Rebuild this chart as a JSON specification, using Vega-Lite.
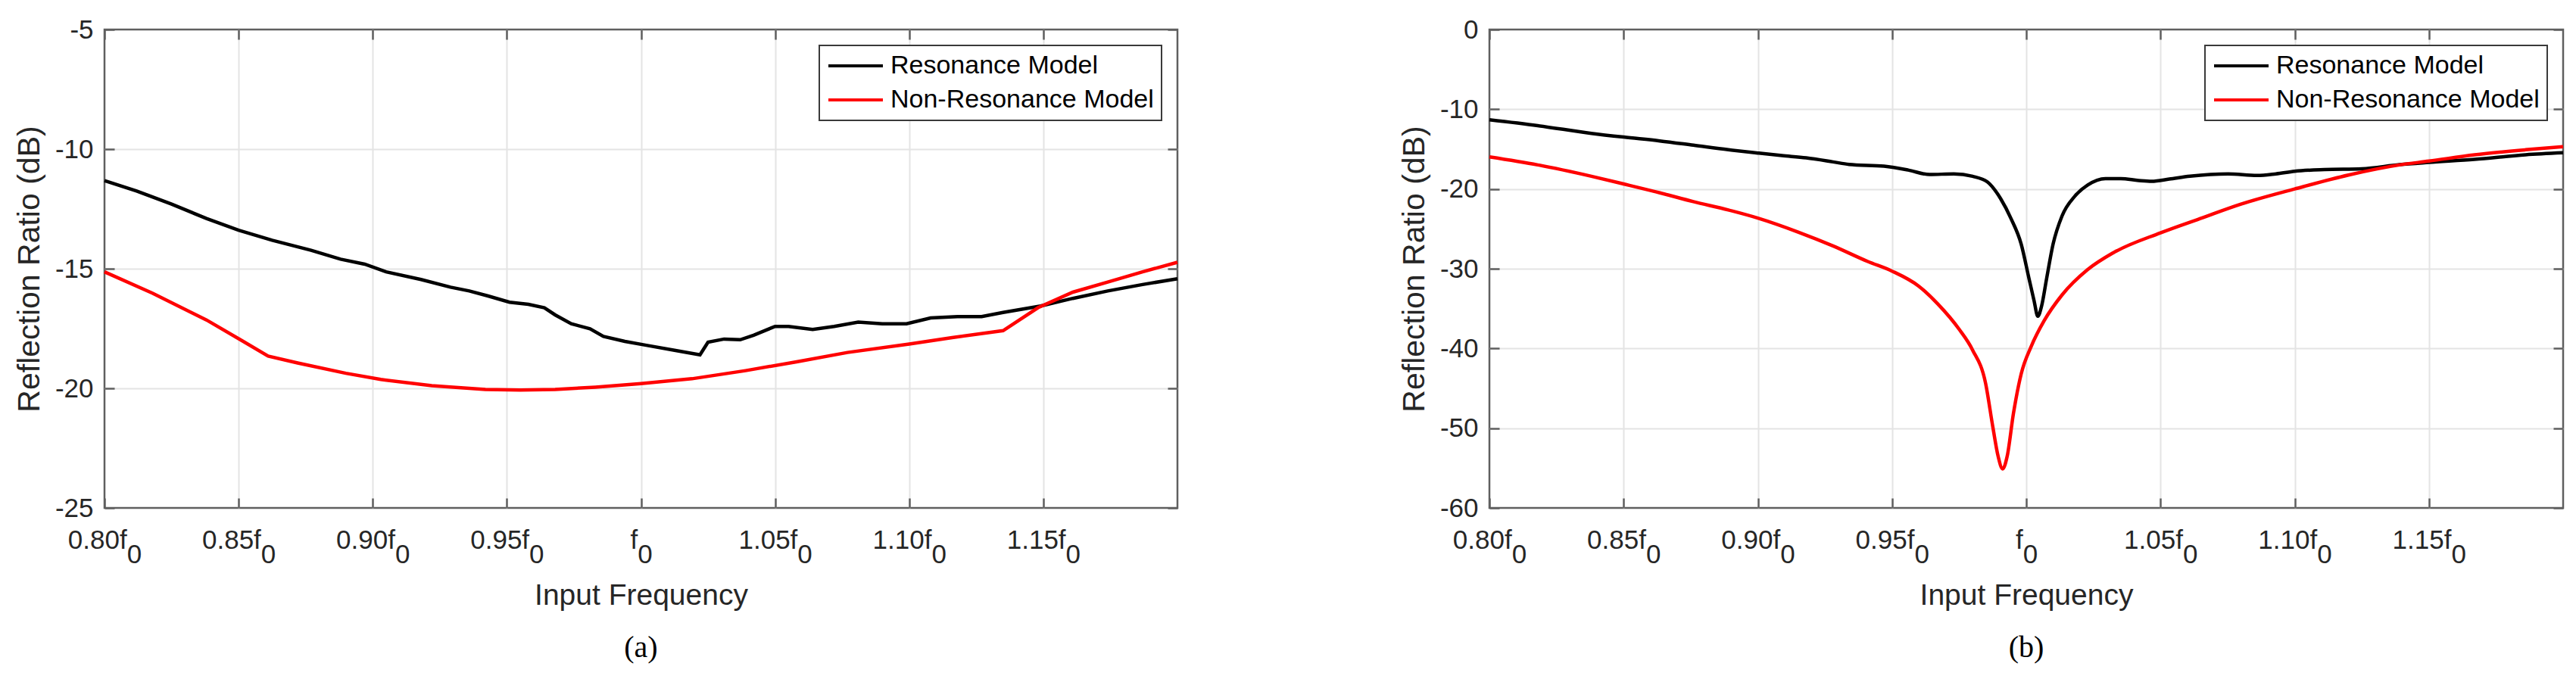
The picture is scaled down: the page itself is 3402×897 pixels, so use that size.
{
  "$schema": "https://vega.github.io/schema/vega-lite/v6.json",
  "padding": {"left": 17, "top": 20, "right": 0, "bottom": 0},
  "background": "white",
  "datasets": {
    "a": [
      {"f": 0.800, "dB": -11.32, "series": "Resonance Model"},
      {"f": 0.812, "dB": -11.75, "series": "Resonance Model"},
      {"f": 0.825, "dB": -12.30, "series": "Resonance Model"},
      {"f": 0.838, "dB": -12.90, "series": "Resonance Model"},
      {"f": 0.850, "dB": -13.39, "series": "Resonance Model"},
      {"f": 0.8625, "dB": -13.81, "series": "Resonance Model"},
      {"f": 0.877, "dB": -14.23, "series": "Resonance Model"},
      {"f": 0.888, "dB": -14.60, "series": "Resonance Model"},
      {"f": 0.897, "dB": -14.81, "series": "Resonance Model"},
      {"f": 0.905, "dB": -15.13, "series": "Resonance Model"},
      {"f": 0.918, "dB": -15.45, "series": "Resonance Model"},
      {"f": 0.929, "dB": -15.77, "series": "Resonance Model"},
      {"f": 0.936, "dB": -15.93, "series": "Resonance Model"},
      {"f": 0.943, "dB": -16.14, "series": "Resonance Model"},
      {"f": 0.951, "dB": -16.40, "series": "Resonance Model"},
      {"f": 0.958, "dB": -16.49, "series": "Resonance Model"},
      {"f": 0.964, "dB": -16.63, "series": "Resonance Model"},
      {"f": 0.968, "dB": -16.93, "series": "Resonance Model"},
      {"f": 0.974, "dB": -17.30, "series": "Resonance Model"},
      {"f": 0.981, "dB": -17.51, "series": "Resonance Model"},
      {"f": 0.986, "dB": -17.83, "series": "Resonance Model"},
      {"f": 0.994, "dB": -18.04, "series": "Resonance Model"},
      {"f": 1.002, "dB": -18.20, "series": "Resonance Model"},
      {"f": 1.0125, "dB": -18.41, "series": "Resonance Model"},
      {"f": 1.022, "dB": -18.60, "series": "Resonance Model"},
      {"f": 1.025, "dB": -18.07, "series": "Resonance Model"},
      {"f": 1.031, "dB": -17.94, "series": "Resonance Model"},
      {"f": 1.037, "dB": -17.97, "series": "Resonance Model"},
      {"f": 1.042, "dB": -17.78, "series": "Resonance Model"},
      {"f": 1.050, "dB": -17.41, "series": "Resonance Model"},
      {"f": 1.055, "dB": -17.41, "series": "Resonance Model"},
      {"f": 1.064, "dB": -17.54, "series": "Resonance Model"},
      {"f": 1.072, "dB": -17.41, "series": "Resonance Model"},
      {"f": 1.081, "dB": -17.23, "series": "Resonance Model"},
      {"f": 1.090, "dB": -17.30, "series": "Resonance Model"},
      {"f": 1.099, "dB": -17.30, "series": "Resonance Model"},
      {"f": 1.108, "dB": -17.06, "series": "Resonance Model"},
      {"f": 1.118, "dB": -17.00, "series": "Resonance Model"},
      {"f": 1.127, "dB": -17.00, "series": "Resonance Model"},
      {"f": 1.135, "dB": -16.83, "series": "Resonance Model"},
      {"f": 1.149, "dB": -16.56, "series": "Resonance Model"},
      {"f": 1.161, "dB": -16.24, "series": "Resonance Model"},
      {"f": 1.174, "dB": -15.93, "series": "Resonance Model"},
      {"f": 1.187, "dB": -15.66, "series": "Resonance Model"},
      {"f": 1.200, "dB": -15.42, "series": "Resonance Model"},
      {"f": 0.800, "dB": -15.13, "series": "Non-Resonance Model"},
      {"f": 0.818, "dB": -16.03, "series": "Non-Resonance Model"},
      {"f": 0.838, "dB": -17.14, "series": "Non-Resonance Model"},
      {"f": 0.851, "dB": -17.99, "series": "Non-Resonance Model"},
      {"f": 0.861, "dB": -18.65, "series": "Non-Resonance Model"},
      {"f": 0.872, "dB": -18.94, "series": "Non-Resonance Model"},
      {"f": 0.890, "dB": -19.37, "series": "Non-Resonance Model"},
      {"f": 0.903, "dB": -19.63, "series": "Non-Resonance Model"},
      {"f": 0.922, "dB": -19.89, "series": "Non-Resonance Model"},
      {"f": 0.942, "dB": -20.05, "series": "Non-Resonance Model"},
      {"f": 0.955, "dB": -20.07, "series": "Non-Resonance Model"},
      {"f": 0.968, "dB": -20.05, "series": "Non-Resonance Model"},
      {"f": 0.983, "dB": -19.95, "series": "Non-Resonance Model"},
      {"f": 1.000, "dB": -19.80, "series": "Non-Resonance Model"},
      {"f": 1.019, "dB": -19.60, "series": "Non-Resonance Model"},
      {"f": 1.039, "dB": -19.26, "series": "Non-Resonance Model"},
      {"f": 1.058, "dB": -18.89, "series": "Non-Resonance Model"},
      {"f": 1.077, "dB": -18.50, "series": "Non-Resonance Model"},
      {"f": 1.100, "dB": -18.15, "series": "Non-Resonance Model"},
      {"f": 1.116, "dB": -17.88, "series": "Non-Resonance Model"},
      {"f": 1.135, "dB": -17.59, "series": "Non-Resonance Model"},
      {"f": 1.148, "dB": -16.63, "series": "Non-Resonance Model"},
      {"f": 1.161, "dB": -15.98, "series": "Non-Resonance Model"},
      {"f": 1.174, "dB": -15.56, "series": "Non-Resonance Model"},
      {"f": 1.187, "dB": -15.13, "series": "Non-Resonance Model"},
      {"f": 1.200, "dB": -14.73, "series": "Non-Resonance Model"}
    ],
    "b": [
      {"f": 0.800, "dB": -11.33, "series": "Resonance Model"},
      {"f": 0.818, "dB": -12.06, "series": "Resonance Model"},
      {"f": 0.838, "dB": -13.02, "series": "Resonance Model"},
      {"f": 0.850, "dB": -13.49, "series": "Resonance Model"},
      {"f": 0.8635, "dB": -13.97, "series": "Resonance Model"},
      {"f": 0.876, "dB": -14.51, "series": "Resonance Model"},
      {"f": 0.889, "dB": -15.08, "series": "Resonance Model"},
      {"f": 0.900, "dB": -15.49, "series": "Resonance Model"},
      {"f": 0.909, "dB": -15.81, "series": "Resonance Model"},
      {"f": 0.918, "dB": -16.10, "series": "Resonance Model"},
      {"f": 0.928, "dB": -16.60, "series": "Resonance Model"},
      {"f": 0.934, "dB": -16.92, "series": "Resonance Model"},
      {"f": 0.947, "dB": -17.14, "series": "Resonance Model"},
      {"f": 0.956, "dB": -17.62, "series": "Resonance Model"},
      {"f": 0.964, "dB": -18.19, "series": "Resonance Model"},
      {"f": 0.973, "dB": -18.10, "series": "Resonance Model"},
      {"f": 0.980, "dB": -18.41, "series": "Resonance Model"},
      {"f": 0.9855, "dB": -19.10, "series": "Resonance Model"},
      {"f": 0.9905, "dB": -21.24, "series": "Resonance Model"},
      {"f": 0.9943, "dB": -23.70, "series": "Resonance Model"},
      {"f": 0.9981, "dB": -26.90, "series": "Resonance Model"},
      {"f": 1.001, "dB": -31.20, "series": "Resonance Model"},
      {"f": 1.0029, "dB": -34.00, "series": "Resonance Model"},
      {"f": 1.0043, "dB": -35.96, "series": "Resonance Model"},
      {"f": 1.0057, "dB": -34.70, "series": "Resonance Model"},
      {"f": 1.0076, "dB": -31.20, "series": "Resonance Model"},
      {"f": 1.010, "dB": -26.90, "series": "Resonance Model"},
      {"f": 1.0133, "dB": -23.40, "series": "Resonance Model"},
      {"f": 1.0181, "dB": -20.90, "series": "Resonance Model"},
      {"f": 1.0229, "dB": -19.50, "series": "Resonance Model"},
      {"f": 1.0295, "dB": -18.70, "series": "Resonance Model"},
      {"f": 1.0352, "dB": -18.70, "series": "Resonance Model"},
      {"f": 1.0419, "dB": -18.94, "series": "Resonance Model"},
      {"f": 1.0467, "dB": -19.04, "series": "Resonance Model"},
      {"f": 1.0533, "dB": -18.76, "series": "Resonance Model"},
      {"f": 1.061, "dB": -18.40, "series": "Resonance Model"},
      {"f": 1.0752, "dB": -18.10, "series": "Resonance Model"},
      {"f": 1.086, "dB": -18.30, "series": "Resonance Model"},
      {"f": 1.093, "dB": -18.10, "series": "Resonance Model"},
      {"f": 1.100, "dB": -17.78, "series": "Resonance Model"},
      {"f": 1.111, "dB": -17.56, "series": "Resonance Model"},
      {"f": 1.125, "dB": -17.46, "series": "Resonance Model"},
      {"f": 1.139, "dB": -16.95, "series": "Resonance Model"},
      {"f": 1.150, "dB": -16.67, "series": "Resonance Model"},
      {"f": 1.167, "dB": -16.29, "series": "Resonance Model"},
      {"f": 1.186, "dB": -15.71, "series": "Resonance Model"},
      {"f": 1.200, "dB": -15.46, "series": "Resonance Model"},
      {"f": 0.800, "dB": -15.97, "series": "Non-Resonance Model"},
      {"f": 0.818, "dB": -16.98, "series": "Non-Resonance Model"},
      {"f": 0.838, "dB": -18.41, "series": "Non-Resonance Model"},
      {"f": 0.850, "dB": -19.37, "series": "Non-Resonance Model"},
      {"f": 0.8635, "dB": -20.48, "series": "Non-Resonance Model"},
      {"f": 0.876, "dB": -21.59, "series": "Non-Resonance Model"},
      {"f": 0.889, "dB": -22.63, "series": "Non-Resonance Model"},
      {"f": 0.900, "dB": -23.65, "series": "Non-Resonance Model"},
      {"f": 0.915, "dB": -25.40, "series": "Non-Resonance Model"},
      {"f": 0.928, "dB": -27.14, "series": "Non-Resonance Model"},
      {"f": 0.941, "dB": -29.10, "series": "Non-Resonance Model"},
      {"f": 0.950, "dB": -30.30, "series": "Non-Resonance Model"},
      {"f": 0.960, "dB": -32.20, "series": "Non-Resonance Model"},
      {"f": 0.967, "dB": -34.40, "series": "Non-Resonance Model"},
      {"f": 0.975, "dB": -37.60, "series": "Non-Resonance Model"},
      {"f": 0.980, "dB": -40.20, "series": "Non-Resonance Model"},
      {"f": 0.9848, "dB": -44.30, "series": "Non-Resonance Model"},
      {"f": 0.9876, "dB": -49.96, "series": "Non-Resonance Model"},
      {"f": 0.9895, "dB": -53.50, "series": "Non-Resonance Model"},
      {"f": 0.9912, "dB": -55.10, "series": "Non-Resonance Model"},
      {"f": 0.9929, "dB": -53.50, "series": "Non-Resonance Model"},
      {"f": 0.9952, "dB": -48.20, "series": "Non-Resonance Model"},
      {"f": 0.9981, "dB": -43.20, "series": "Non-Resonance Model"},
      {"f": 1.0019, "dB": -39.70, "series": "Non-Resonance Model"},
      {"f": 1.0067, "dB": -36.50, "series": "Non-Resonance Model"},
      {"f": 1.0133, "dB": -33.30, "series": "Non-Resonance Model"},
      {"f": 1.0229, "dB": -30.10, "series": "Non-Resonance Model"},
      {"f": 1.0324, "dB": -28.00, "series": "Non-Resonance Model"},
      {"f": 1.050, "dB": -25.50, "series": "Non-Resonance Model"},
      {"f": 1.0657, "dB": -23.60, "series": "Non-Resonance Model"},
      {"f": 1.080, "dB": -21.90, "series": "Non-Resonance Model"},
      {"f": 1.100, "dB": -20.00, "series": "Non-Resonance Model"},
      {"f": 1.120, "dB": -18.25, "series": "Non-Resonance Model"},
      {"f": 1.139, "dB": -16.98, "series": "Non-Resonance Model"},
      {"f": 1.150, "dB": -16.50, "series": "Non-Resonance Model"},
      {"f": 1.167, "dB": -15.71, "series": "Non-Resonance Model"},
      {"f": 1.186, "dB": -15.08, "series": "Non-Resonance Model"},
      {"f": 1.200, "dB": -14.70, "series": "Non-Resonance Model"}
    ]
  },
  "hconcat": [
    {
      "width": 1417,
      "height": 632,
      "data": {"name": "a"},
      "title": {"text": "(a)", "orient": "bottom", "anchor": "middle", "font": "Liberation Serif", "fontSize": 40, "fontWeight": "normal", "color": "#000000", "offset": 30},
      "layer": [
        {
          "mark": {"type": "line", "strokeWidth": 4.5, "interpolate": "linear"},
          "encoding": {
            "x": {"field": "f", "type": "quantitative", "title": "Input Frequency",
              "scale": {"domain": [0.8, 1.2], "nice": false, "zero": false},
              "axis": {"orient": "bottom", "values": [0.8, 0.85, 0.9, 0.95, 1.0, 1.05, 1.1, 1.15],
                "labelExpr": "datum.value == 1 ? ['f\u00a0\u00a0\u200b', '\u200b\u00a00'] : [format(datum.value, '.2f') + 'f\u00a0\u00a0\u200b', '\u200b\u00a0\u00a0\u00a0\u00a0\u00a0\u00a0\u00a0\u00a00']",
                "labelPadding": 38, "labelLineHeight": 19, "labelBaseline": "top", "titlePadding": 17, "titleFontSize": 39,
                "gridOpacity": {"condition": {"test": "datum.value <= 0.8 || datum.value >= 1.2", "value": 0}, "value": 1}}},
            "y": {"field": "dB", "type": "quantitative", "title": "Reflection Ratio (dB)",
              "scale": {"domain": [-25, -5], "nice": false, "zero": false},
              "axis": {"orient": "left", "values": [-25, -20, -15, -10, -5], "labelExpr": "'' + datum.value",
                "labelPadding": 28, "titlePadding": 12, "titleFontSize": 41,
                "gridOpacity": {"condition": {"test": "datum.value <= -25 || datum.value >= -5", "value": 0}, "value": 1}}},
            "color": {"field": "series", "type": "nominal",
              "scale": {"domain": ["Resonance Model", "Non-Resonance Model"], "range": ["#000000", "#ff0000"]},
              "legend": {"orient": "top-right", "offset": 21, "title": null}}
          }
        },
        {
          "mark": {"type": "line", "opacity": 0},
          "encoding": {
            "x": {"field": "f", "type": "quantitative",
              "axis": {"orient": "top", "title": null, "labels": false, "grid": false, "values": [0.8, 0.85, 0.9, 0.95, 1.0, 1.05, 1.1, 1.15]}},
            "y": {"field": "dB", "type": "quantitative",
              "axis": {"orient": "right", "title": null, "labels": false, "grid": false, "values": [-25, -20, -15, -10, -5]}},
            "detail": {"field": "series"}
          }
        }
      ],
      "resolve": {"axis": {"x": "independent", "y": "independent"}}
    },
    {
      "width": 1418,
      "height": 632,
      "data": {"name": "b"},
      "title": {"text": "(b)", "orient": "bottom", "anchor": "middle", "font": "Liberation Serif", "fontSize": 40, "fontWeight": "normal", "color": "#000000", "offset": 30},
      "layer": [
        {
          "mark": {"type": "line", "strokeWidth": 4.5, "interpolate": "monotone"},
          "encoding": {
            "x": {"field": "f", "type": "quantitative", "title": "Input Frequency",
              "scale": {"domain": [0.8, 1.2], "nice": false, "zero": false},
              "axis": {"orient": "bottom", "values": [0.8, 0.85, 0.9, 0.95, 1.0, 1.05, 1.1, 1.15],
                "labelExpr": "datum.value == 1 ? ['f\u00a0\u00a0\u200b', '\u200b\u00a00'] : [format(datum.value, '.2f') + 'f\u00a0\u00a0\u200b', '\u200b\u00a0\u00a0\u00a0\u00a0\u00a0\u00a0\u00a0\u00a00']",
                "labelPadding": 38, "labelLineHeight": 19, "labelBaseline": "top", "titlePadding": 17, "titleFontSize": 39,
                "gridOpacity": {"condition": {"test": "datum.value <= 0.8 || datum.value >= 1.2", "value": 0}, "value": 1}}},
            "y": {"field": "dB", "type": "quantitative", "title": "Reflection Ratio (dB)",
              "scale": {"domain": [-60, 0], "nice": false, "zero": false},
              "axis": {"orient": "left", "values": [-60, -50, -40, -30, -20, -10, 0], "labelExpr": "'' + datum.value",
                "labelPadding": 28, "titlePadding": 12, "titleFontSize": 41,
                "gridOpacity": {"condition": {"test": "datum.value <= -60 || datum.value >= 0", "value": 0}, "value": 1}}},
            "color": {"field": "series", "type": "nominal",
              "scale": {"domain": ["Resonance Model", "Non-Resonance Model"], "range": ["#000000", "#ff0000"]},
              "legend": {"orient": "top-right", "offset": 21, "title": null}}
          }
        },
        {
          "mark": {"type": "line", "opacity": 0},
          "encoding": {
            "x": {"field": "f", "type": "quantitative",
              "axis": {"orient": "top", "title": null, "labels": false, "grid": false, "values": [0.8, 0.85, 0.9, 0.95, 1.0, 1.05, 1.1, 1.15]}},
            "y": {"field": "dB", "type": "quantitative",
              "axis": {"orient": "right", "title": null, "labels": false, "grid": false, "values": [-60, -50, -40, -30, -20, -10, 0]}},
            "detail": {"field": "series"}
          }
        }
      ],
      "resolve": {"axis": {"x": "independent", "y": "independent"}}
    }
  ],
  "spacing": 280,
  "resolve": {"scale": {"x": "independent", "y": "independent", "color": "independent"}},
  "config": {
    "font": "Liberation Sans",
    "view": {"stroke": "#5f5f5f", "strokeWidth": 2.5},
    "axis": {
      "labelFont": "Liberation Sans", "labelFontSize": 35, "labelColor": "#262626",
      "titleFont": "Liberation Sans", "titleFontSize": 38, "titleFontWeight": "normal", "titleColor": "#262626",
      "gridColor": "#e4e4e4", "gridWidth": 2,
      "tickColor": "#5f5f5f", "tickWidth": 2.5, "tickSize": -13,
      "domain": false, "labelFlush": false, "labelOverlap": false
    },
    "legend": {
      "strokeColor": "#3a3a3a", "strokeWidth": 2, "fillColor": "white", "padding": 10,
      "symbolType": "stroke", "symbolSize": 5184, "symbolStrokeWidth": 4, "clipHeight": 34,
      "labelFont": "Liberation Sans", "labelFontSize": 34, "labelColor": "#000000", "labelOffset": 8,
      "labelLimit": 0, "rowPadding": 11
    }
  }
}
